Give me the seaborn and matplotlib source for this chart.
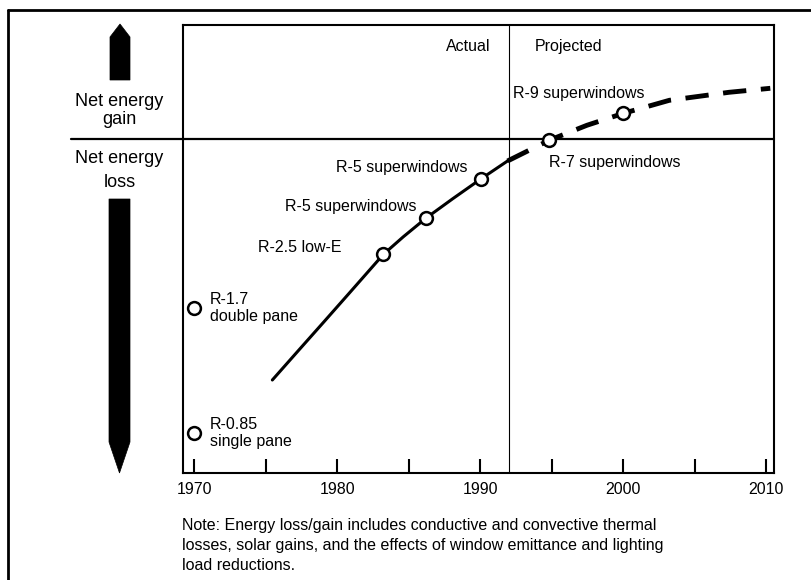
import numpy as np
import pandas as pd
import seaborn as sns
import matplotlib.pyplot as plt
from matplotlib.patches import Polygon
from matplotlib.lines import Line2D

# %% datos (y = energia neta, unidades arbitrarias, 0 = equilibrio)

anio_real = [1975.47, 1977.34, 1979.08, 1980.81, 1983.24, 1984.63, 1986.23, 1988.1, 1990.05, 1991.92]
energia_real = [-2.407, -2.105, -1.825, -1.545, -1.15, -0.975, -0.787, -0.593, -0.397, -0.217]

anio_proy = [1991.92, 1994.83, 1997.47, 2000.03, 2003.24, 2007.41, 2010.3]
energia_proy = [-0.217, -0.01, 0.14, 0.26, 0.39, 0.47, 0.51]

anio_ventana = [1970.0, 1970.0, 1983.24, 1986.23, 1990.05, 1994.83, 2000.03]
energia_ventana = [-2.94, -1.69, -1.15, -0.787, -0.397, -0.01, 0.26]
etiquetas = ["R-0.85\nsingle pane", "R-1.7\ndouble pane", "R-2.5 low-E",
             "R-5 superwindows", "R-5 superwindows", "R-7 superwindows",
             "R-9 superwindows"]

anio_corte = 1992
ticks_x = list(range(1970, 2011, 5))
nota = ("Note: Energy loss/gain includes conductive and convective thermal\n"
        "losses, solar gains, and the effects of window emittance and lighting\n"
        "load reductions.")

# %% grafico

sns.set_theme(style="white")
plt.rcParams['font.family'] = ['Liberation Sans', 'DejaVu Sans']
plt.rcParams['text.color'] = 'black'
plt.rcParams['xtick.color'] = 'black'
plt.rcParams['xtick.labelcolor'] = 'black'

W, H = 811, 580
fig = plt.figure(figsize=(W / 100, H / 100), dpi=100)

def fx(px):
    return px / W

def fy(py):
    return 1 - py / H

ax = fig.add_axes([fx(182.7), fy(473.3), fx(774.3) - fx(182.7), fy(25) - fy(473.3)])

df_real = pd.DataFrame({'anio': anio_real, 'energia': energia_real})
df_proy = pd.DataFrame({'anio': anio_proy, 'energia': energia_proy})
df_vent = pd.DataFrame({'anio': anio_ventana, 'energia': energia_ventana})

sns.lineplot(data=df_real, x='anio', y='energia', color='black', lw=2.2, ax=ax, zorder=3)
sns.lineplot(data=df_proy, x='anio', y='energia', color='black', lw=3.5,
             linestyle=(0, (4.8, 3.0)), ax=ax, zorder=3)
sns.scatterplot(data=df_vent, x='anio', y='energia', s=85, color='white',
                edgecolor='black', linewidth=1.8, ax=ax, zorder=5, clip_on=False)

ax.set_xlim(1969.2, 2010.58)
ax.set_ylim(-3.34, 1.143)

# linea de equilibrio (se extiende fuera del eje hacia la izquierda)
x0 = (71 - 182.7) / (774.3 - 182.7)
ax.axhline(0, xmin=x0, xmax=1, color='black', lw=1.6, clip_on=False, zorder=2)
ax.axvline(anio_corte, color='black', lw=0.8, zorder=2)

# etiquetas de cada ventana: (dx, dy) en pixeles y alineacion
offsets = [(16, 0, 'left'), (16, 0, 'left'), (-42, 7, 'right'), (-10, 12, 'right'),
           (-13, 12, 'right'), (0, -22, 'left'), (-110, 20, 'left')]
for (x, y), lab, (dx, dy, ha) in zip(zip(anio_ventana, energia_ventana), etiquetas, offsets):
    ax.annotate(lab, xy=(x, y), xytext=(dx, dy), textcoords='offset pixels',
                ha=ha, va='center', fontsize=11.5, linespacing=1.15)

ax.annotate("Actual", xy=(anio_corte, 1.143), xytext=(-18, -21), textcoords='offset pixels',
            ha='right', va='center', fontsize=11.5)
ax.annotate("Projected", xy=(anio_corte, 1.143), xytext=(26, -21), textcoords='offset pixels',
            ha='left', va='center', fontsize=11.5)

ax.set_xticks(ticks_x)
ax.set_xticklabels([str(t) if t % 10 == 0 else '' for t in ticks_x], fontsize=11.5)
ax.set_yticks([])
ax.set_xlabel('')
ax.set_ylabel('')
ax.tick_params(axis='x', direction='in', length=10, width=1.5, pad=6, color='black',
               labelcolor='black', bottom=True)
for s in ax.spines.values():
    s.set_color('black')
    s.set_linewidth(1.5)

# flechas laterales
arriba = [(110, 80), (110, 37), (120, 24), (130, 37), (130, 80)]
abajo = [(109, 199), (109, 442), (119.5, 473), (130, 442), (130, 199)]
for pts in (arriba, abajo):
    fig.patches.append(Polygon([(fx(a), fy(b)) for a, b in pts], closed=True,
                               transform=fig.transFigure, facecolor='black',
                               edgecolor='black', lw=0.5))

for txt, base in [("Net energy", 106), ("gain", 124), ("Net energy", 162.7), ("loss", 186.7)]:
    fig.text(fx(119.5), fy(base), txt, ha='center', va='baseline', fontsize=13)

# marco exterior
fig.add_artist(Line2D([fx(8), fx(8)], [fy(10), fy(585)], transform=fig.transFigure,
                      color='black', lw=2))
fig.add_artist(Line2D([fx(8), fx(815)], [fy(10), fy(10)], transform=fig.transFigure,
                      color='black', lw=2))

fig.text(fx(182), fy(518), nota, ha='left', va='top', fontsize=11.5, linespacing=1.42)

fig.savefig('out.png', dpi=100)
